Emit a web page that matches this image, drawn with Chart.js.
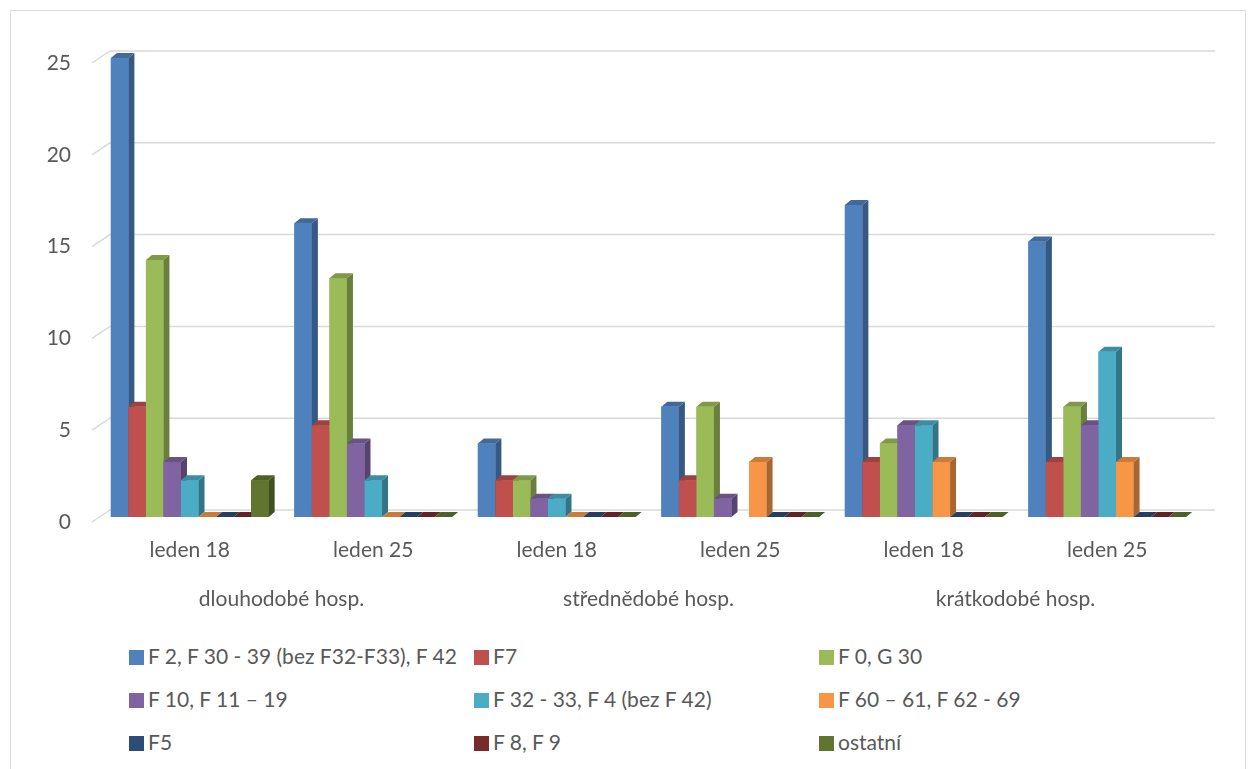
<!DOCTYPE html>
<html>
<head>
<meta charset="utf-8">
<script src="https://cdn.jsdelivr.net/npm/chart.js@4/dist/chart.umd.min.js"></script>
<style>
  body { margin: 0; background: #fff; font-family: Lato, sans-serif; }
  #frame { position: absolute; left: 10px; top: 10px; width: 1234px; height: 800px; border: 1px solid #d9d9d9; }
  #wrap { position: absolute; left: 0; top: 0; width: 1253px; height: 620px; }
  .item { position: absolute; height: 24px; line-height: 24px; font-size: 21px; color: #595959; white-space: nowrap; }
  .item span { display: inline-block; width: 15px; height: 15px; margin-right: 4px; vertical-align: -1px; }
</style>
</head>
<body>
<div id="frame"></div>
<div id="wrap"><canvas id="chart" width="1253" height="620"></canvas></div>
<div id="legend"></div>
<script>
var categories = ["leden 18", "leden 25", "leden 18", "leden 25", "leden 18", "leden 25"];
var groups = ["dlouhodobé hosp.", "střednědobé hosp.", "krátkodobé hosp."];
var yTicks = [0, 5, 10, 15, 20, 25];

var seriesNames = ["F 2, F 30 - 39 (bez F32-F33), F 42", "F7", "F 0, G 30",
  "F 10, F 11 \u2013 19", "F 32 - 33, F 4 (bez F 42)", "F 60 \u2013  61, F 62 - 69",
  "F5", "F 8, F 9", "ostatní"];

var f2 = [25, 16, 4, 6, 17, 15];
var f7 = [6, 5, 2, 2, 3, 3];
var f0 = [14, 13, 2, 6, 4, 6];
var f10 = [3, 4, 1, 1, 5, 5];
var f32 = [2, 2, 1, null, 5, 9];
var f60 = [0, 0, 0, 3, 3, 3];
var f5 = [0, 0, 0, 0, 0, 0];
var f8 = [0, 0, 0, 0, 0, 0];
var ostatni = [2, 0, 0, 0, 0, 0];

var seriesValues = [f2, f7, f0, f10, f32, f60, f5, f8, ostatni];
var colors = ["#4F81BD", "#C0504D", "#9BBB59", "#8064A2", "#4BACC6", "#F79646", "#2C4D75", "#772C2A", "#5F7530"];

var textColor = "#595959";
var font = { family: "Lato", size: 21 };
var DX = 6, DY = 5;

function shade(hex, k) {
  var n = parseInt(hex.slice(1), 16);
  var r = Math.round(((n >> 16) & 255) * k), g = Math.round(((n >> 8) & 255) * k), b = Math.round((n & 255) * k);
  return "rgb(" + r + "," + g + "," + b + ")";
}

function poly(ctx, pts, fill) {
  ctx.beginPath();
  ctx.moveTo(pts[0][0], pts[0][1]);
  for (var i = 1; i < pts.length; i++) ctx.lineTo(pts[i][0], pts[i][1]);
  ctx.closePath();
  ctx.fillStyle = fill;
  ctx.fill();
}

// back wall gridlines with a small slanted side wall at the left
var wallGrid = {
  id: "wallGrid",
  beforeDatasetsDraw: function (chart) {
    var ctx = chart.ctx, a = chart.chartArea, y = chart.scales.y;
    ctx.save();
    ctx.strokeStyle = "#d9d9d9";
    ctx.lineWidth = 1.5;
    yTicks.forEach(function (v) {
      var p = y.getPixelForValue(v);
      ctx.beginPath();
      ctx.moveTo(a.left - 6, p + 5);
      ctx.lineTo(a.left + 12, p - 7);
      ctx.lineTo(a.right + 16, p - 7);
      ctx.stroke();
    });
    ctx.restore();
  }
};

// fake 3d: redraw each dataset front in order, then its side and top faces
var bars3d = {
  id: "bars3d",
  afterDatasetsDraw: function (chart) {
    var ctx = chart.ctx;
    ctx.save();
    chart.data.datasets.forEach(function (ds, i) {
      var meta = chart.getDatasetMeta(i);
      meta.data.forEach(function (el, j) {
        if (ds.data[j] === null) return;
        el.draw(ctx, chart.chartArea);
        var p = el.getProps(["x", "y", "base", "width"], true);
        var l = p.x - p.width / 2, r = p.x + p.width / 2;
        var top = Math.min(p.y, p.base), bot = Math.max(p.y, p.base);
        var c = colors[i];
        poly(ctx, [[r, top], [r + DX, top - DY], [r + DX, bot - DY], [r, bot]], shade(c, 0.68));
        poly(ctx, [[l, top], [l + DX, top - DY], [r + DX, top - DY], [r, top]], shade(c, 0.82));
      });
    });
    ctx.restore();
  }
};

var datasets = seriesNames.map(function (name, i) {
  return {
    label: name,
    data: seriesValues[i],
    backgroundColor: colors[i],
    borderWidth: 0,
    barPercentage: 1,
    categoryPercentage: 0.86
  };
});

new Chart(document.getElementById("chart"), {
  type: "bar",
  data: { labels: categories, datasets: datasets },
  options: {
    responsive: false,
    animation: false,
    layout: { padding: { left: 0, top: 58, right: 54, bottom: 0 } },
    plugins: { legend: { display: false }, tooltip: { enabled: false } },
    scales: {
      x: {
        grid: { display: false, drawTicks: false },
        border: { display: false },
        ticks: { color: textColor, font: font, padding: 21, maxRotation: 0 },
        afterFit: function (s) { s.height = 60; }
      },
      x2: {
        type: "category",
        labels: groups,
        position: "bottom",
        grid: { display: false, drawTicks: false },
        border: { display: false },
        ticks: { color: textColor, font: font, padding: 10, maxRotation: 0 },
        afterFit: function (s) { s.height = 43; }
      },
      y: {
        min: 0, max: 25,
        grid: { display: false, drawTicks: false },
        border: { display: false },
        ticks: { stepSize: 5, color: textColor, font: font, padding: 27, labelOffset: 5 },
        afterFit: function (s) { s.width = 98; }
      }
    }
  },
  plugins: [wallGrid, bars3d]
});

// legend in three columns
var legendCols = [129, 474, 819];
var legendRows = [656, 699, 742];
var legend = document.getElementById("legend");
seriesNames.forEach(function (name, i) {
  var d = document.createElement("div");
  d.className = "item";
  d.style.left = legendCols[i % 3] + "px";
  d.style.top = (legendRows[Math.floor(i / 3)] - 12) + "px";
  d.innerHTML = '<span style="background:' + colors[i] + '"></span>' + name;
  legend.appendChild(d);
});
</script>
</body>
</html>
